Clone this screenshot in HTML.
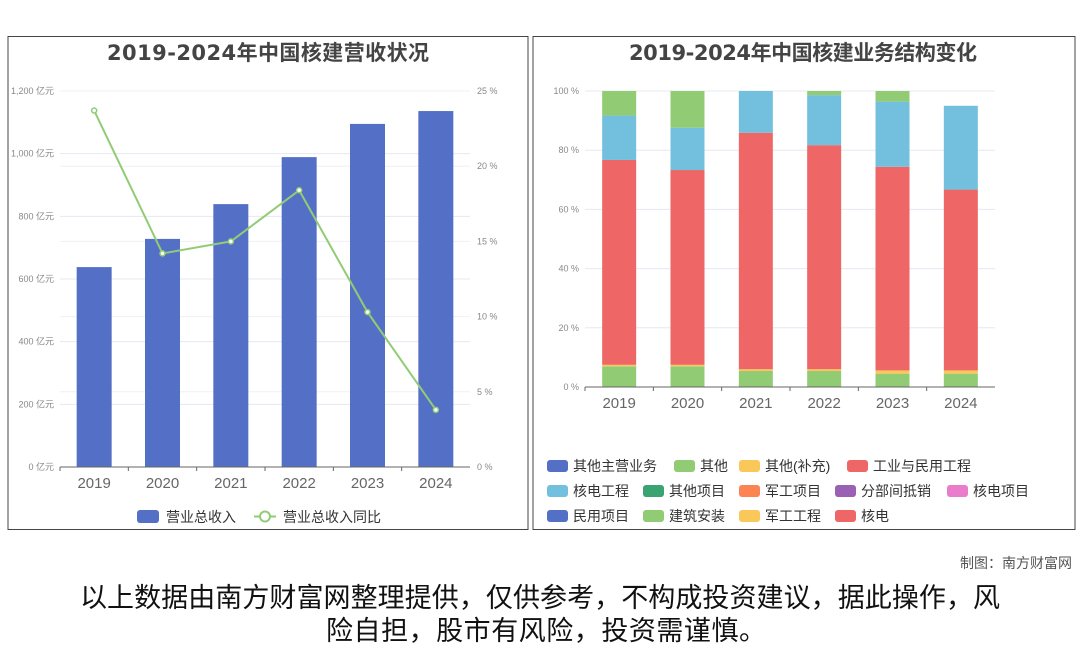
<!DOCTYPE html>
<html><head><meta charset="utf-8"><style>
body{margin:0;background:#fff;width:1080px;height:646px;overflow:hidden;font-family:"Liberation Sans","Noto Sans CJK SC",sans-serif;}
svg{position:absolute;left:0;top:0}
</style></head><body>
<svg id="s" width="1080" height="646">
<rect x="8" y="36.5" width="520" height="493" fill="none" stroke="#444" stroke-width="1"/>
<rect x="533" y="36.5" width="542" height="493" fill="none" stroke="#444" stroke-width="1"/>
<text x="268" y="60" text-anchor="middle" font-size="21" font-weight="bold" fill="#444" font-family="DejaVu Sans, Noto Sans CJK SC, sans-serif" textLength="322">2019-2024年中国核建营收状况</text>
<text x="803" y="60" text-anchor="middle" font-size="21" font-weight="bold" fill="#444" font-family="DejaVu Sans, Noto Sans CJK SC, sans-serif" textLength="348">2019-2024年中国核建业务结构变化</text>
<g id="L"></g><g id="R"></g>
<g>
<rect x="137" y="510" width="22" height="13" rx="3" fill="#5470c6"/>
<text x="166" y="522" font-size="14" fill="#333">营业总收入</text>
<line x1="254" y1="516.5" x2="276" y2="516.5" stroke="#91cc75" stroke-width="2"/>
<circle cx="265" cy="516.5" r="5" fill="#fff" stroke="#91cc75" stroke-width="2"/>
<text x="283" y="522" font-size="14" fill="#333">营业总收入同比</text>
</g>
<g id="RL"></g>
<text x="1072" y="568" text-anchor="end" font-size="14" fill="#555">制图：南方财富网</text>
<text x="540" y="607" text-anchor="middle" font-size="27" fill="#111" textLength="920">以上数据由南方财富网整理提供，仅供参考，不构成投资建议，据此操作，风</text>
<text x="546" y="640" text-anchor="middle" font-size="27" fill="#111" textLength="440">险自担，股市有风险，投资需谨慎。</text>
</svg>
<script>
const years=["2019","2020","2021","2022","2023","2024"];
const revenue=[638,728,839,989,1095,1136];
const yoy=[23.7,14.2,15.0,18.4,10.3,3.8];
const revTicks=[0,200,400,600,800,1000,1200];
const pctTicks=[0,5,10,15,20,25];
const shareTicks=[0,20,40,60,80,100];
const sJianzhu=[7.0,7.0,5.4,5.4,4.5,4.5];
const sJungong=[0.5,0.5,0.6,0.6,1.1,1.1];
const sHedian=[69.2,65.8,79.9,75.7,68.8,61.1];
const sHedianGC=[15.0,14.3,14.1,16.9,22.0,28.3];
const sQita=[8.3,12.4,0,1.4,3.6,0];
const NS="http://www.w3.org/2000/svg";
function mk(p,t,a,txt){const e=document.createElementNS(NS,t);for(const k in a)e.setAttribute(k,a[k]);if(txt!=null)e.textContent=txt;p.appendChild(e);return e;}
// left
const L=document.getElementById('L');
const lx0=60,lx1=470,ly0=467,ly1=91,lstep=(lx1-lx0)/years.length;
const yL=v=>ly0-(v/1200)*(ly0-ly1), yP=v=>ly0-(v/25)*(ly0-ly1), xL=i=>lx0+lstep*(i+0.5);
revTicks.forEach(t=>{const g=mk(L,'line',{x1:lx0,x2:lx1,y1:yL(t),y2:yL(t),stroke:'#e6e8f2'});

const tx=mk(L,'text',{x:lx0-6,y:yL(t)+3,'text-anchor':'end','font-size':9,fill:'#888'},(t>=1000?t.toLocaleString('en-US'):t)+' 亿元');
});
pctTicks.forEach(t=>{if(t>0){const g=mk(L,'line',{x1:lx0,x2:lx1,y1:yP(t),y2:yP(t),stroke:'#eef0f6'});
}
const tx=mk(L,'text',{x:477,y:yP(t)+3,'font-size':9,fill:'#888'},t+' %');
});
years.forEach((y,i)=>{const b=mk(L,'rect',{x:xL(i)-17.5,y:yL(revenue[i]),width:35,height:ly0-yL(revenue[i]),fill:'#5470c6'});

const t=mk(L,'text',{x:xL(i),y:488,'text-anchor':'middle','font-size':15,fill:'#666'},y);

const tk=mk(L,'line',{x1:lx0+lstep*i,x2:lx0+lstep*i,y1:ly0,y2:ly0+4,stroke:'#666'});
});
const ax=mk(L,'line',{x1:lx0,x2:lx1,y1:ly0,y2:ly0,stroke:'#666'});

const pl=mk(L,'polyline',{points:yoy.map((v,i)=>xL(i)+','+yP(v)).join(' '),fill:'none',stroke:'#91cc75','stroke-width':2});

yoy.forEach((v,i)=>{const c=mk(L,'circle',{cx:xL(i),cy:yP(v),r:2.5,fill:'#fff',stroke:'#91cc75','stroke-width':1.5});
});
// right
const R=document.getElementById('R');
const rx0=585,rx1=995,ry0=387,ry1=91,rstep=(rx1-rx0)/years.length;
const yR=v=>ry0-(v/100)*(ry0-ry1), xR=i=>rx0+rstep*(i+0.5);
shareTicks.forEach(t=>{const g=mk(R,'line',{x1:rx0,x2:rx1,y1:yR(t),y2:yR(t),stroke:'#e6e8f2'});

const tx=mk(R,'text',{x:rx0-6,y:yR(t)+3,'text-anchor':'end','font-size':9,fill:'#888'},t+' %');
});
const series=[[sJianzhu,'#91cc75','jianzhu'],[sJungong,'#fac858','jungong'],[sHedian,'#ee6666','hedian'],[sHedianGC,'#73c0de','hedian-gc'],[sQita,'#91cc75','qita']];
years.forEach((y,i)=>{let acc=0;series.forEach(s=>{const v=s[0][i];if(v>0){const r=mk(R,'rect',{x:xR(i)-17,y:yR(acc+v),width:34,height:yR(acc)-yR(acc+v),fill:s[1]});
}acc+=v;});
const t=mk(R,'text',{x:xR(i),y:408,'text-anchor':'middle','font-size':15,fill:'#666'},y);

const tk=mk(R,'line',{x1:rx0+rstep*i,x2:rx0+rstep*i,y1:ry0,y2:ry0+4,stroke:'#666'});
});
const ax2=mk(R,'line',{x1:rx0,x2:rx1,y1:ry0,y2:ry0,stroke:'#666'});

const RL=document.getElementById('RL');
const leg=[[547,466,'#5470c6','其他主营业务'],[674,466,'#91cc75','其他'],[739,466,'#fac858','其他(补充)'],[847,466,'#ee6666','工业与民用工程'],
[547,491,'#73c0de','核电工程'],[643,491,'#3ba272','其他项目'],[739,491,'#fc8452','军工项目'],[835,491,'#9a60b4','分部间抵销'],[947,491,'#ea7ccc','核电项目'],
[547,516,'#5470c6','民用项目'],[643,516,'#91cc75','建筑安装'],[739,516,'#fac858','军工工程'],[835,516,'#ee6666','核电']];
leg.forEach(l=>{const r=mk(RL,'rect',{x:l[0],y:l[1]-6,width:21,height:12,rx:3,fill:l[2]});

const t=mk(RL,'text',{x:l[0]+26,y:l[1]+5,'font-size':14,fill:'#333'},l[3]);
});
</script>
</body></html>
